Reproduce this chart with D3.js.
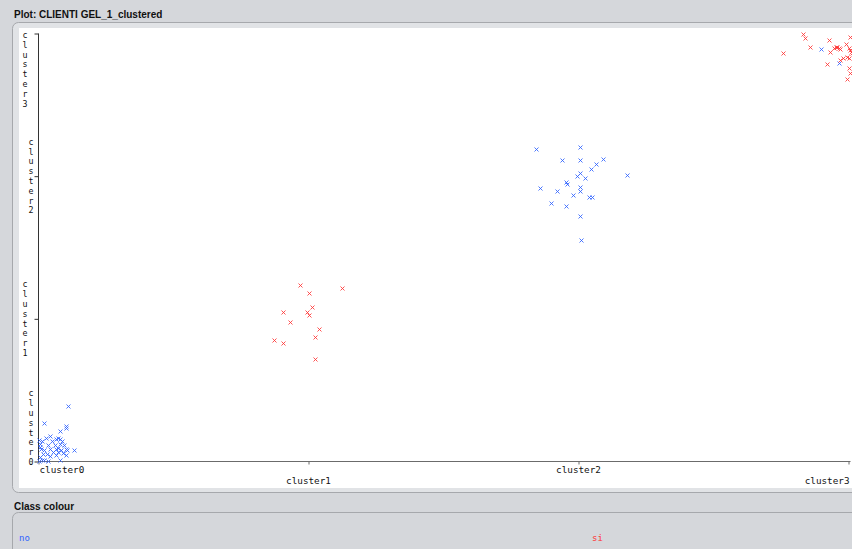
<!DOCTYPE html>
<html><head><meta charset="utf-8">
<script src="https://cdn.jsdelivr.net/npm/d3@7"></script>
<style>
html,body{margin:0;padding:0;background:#d5d7db;overflow:hidden}
svg{display:block}
</style></head><body>
<svg id="chart" width="852" height="549"></svg>
<script>
// Cluster categories on both axes (each point jittered around its cluster index)
const categories = ["cluster0", "cluster1", "cluster2", "cluster3"];
const classNames = ["no", "si"];
const classColors = ["#2e62ff", "#ff3434"];

// class "no" points: x = assigned cluster (jittered), y = cluster (jittered)
const noX = [
  0.109, 0.020, 0.103, 0.100, 0.078, 0.043, 0.000, 0.029, 0.074, 0.066, 0.081,
  0.012, 0.049, 0.086, 0.006, 0.007, 0.037, 0.062, 0.078, 0.096, 0.010, 0.022,
  0.044, 0.066, 0.074, 0.084, 0.103, 0.106, 0.131, 0.053, 0.071, 0.090, 0.016,
  0.032, 0.066, 0.103, 0.007, 0.041, 0.022, 0.037, 0.000, 0.078, 0.012,
  1.844, 2.005, 1.938, 2.005, 2.091, 2.066, 2.047, 2.005, 1.993, 2.023, 2.178,
  1.953, 1.957, 1.857, 1.920, 2.005, 2.005, 1.980, 2.040, 2.049, 1.897, 1.953,
  2.005, 2.010,
  2.897, 2.963
];
const noY = [
  0.388, 0.271, 0.250, 0.236, 0.212, 0.177, 0.154, 0.166, 0.166, 0.161, 0.156,
  0.142, 0.142, 0.142, 0.126, 0.103, 0.114, 0.114, 0.126, 0.114, 0.091, 0.079,
  0.091, 0.086, 0.096, 0.079, 0.091, 0.079, 0.084, 0.068, 0.068, 0.063, 0.056,
  0.056, 0.049, 0.044, 0.033, 0.037, 0.014, 0.002, 0.002, 0.014, 0.009,
  2.187, 2.206, 2.115, 2.115, 2.119, 2.087, 2.052, 2.024, 2.000, 1.989, 2.007,
  1.958, 1.946, 1.914, 1.897, 1.923, 1.897, 1.869, 1.853, 1.857, 1.813, 1.790,
  1.719, 1.556,
  2.888, 2.790
];

// class "si" points
const siX = [
  0.970, 1.003, 1.123, 1.012, 0.907, 0.996, 1.000, 0.931, 1.040, 0.874, 0.904,
  1.023, 1.023,
  2.830, 2.840, 3.007, 2.859, 2.929, 2.758, 2.933, 2.953, 2.958, 2.963, 2.946,
  2.970, 2.990, 3.002, 3.007, 3.012, 2.995, 2.978, 2.970, 2.921, 3.000, 3.007,
  2.993, 3.010, 3.002
];
const siY = [
  1.236, 1.178, 1.217, 1.086, 1.051, 1.049, 1.030, 0.979, 0.932, 0.853, 0.829,
  0.874, 0.715,
  2.993, 2.965, 2.977, 2.907, 2.951, 2.860, 2.872, 2.904, 2.904, 2.900, 2.895,
  2.890, 2.923, 2.900, 2.883, 2.860, 2.836, 2.830, 2.813, 2.783, 2.759, 2.720,
  2.678, 2.872, 2.830
];

const svg = d3.select("#chart");
const sansFont = "Liberation Sans, Arial, sans-serif";
const monoFont = "DejaVu Sans Mono, monospace";

// window title
svg.append("text")
  .attr("x", 14).attr("y", 18)
  .attr("font-family", sansFont)
  .attr("font-weight", "bold").attr("font-size", 10)
  .attr("fill", "#111")
  .text("Plot: CLIENTI GEL_1_clustered");

// plot panel
svg.append("rect")
  .attr("x", 12.5).attr("y", 22.5).attr("width", 860).attr("height", 470)
  .attr("rx", 6).attr("fill", "#e1e3e6").attr("stroke", "#a6a8ac");
svg.append("rect")
  .attr("x", 19).attr("y", 28).attr("width", 840).attr("height", 460)
  .attr("fill", "#ffffff");

svg.append("clipPath").attr("id", "plotClip")
  .append("rect").attr("x", 19).attr("y", 28).attr("width", 840).attr("height", 460);

const x = d3.scaleLinear().domain([0, 3]).range([38.5, 848.5]);
const y = d3.scaleLinear().domain([0, 3]).range([461.5, 33.5]);

// axes (ticks only; labels are drawn below)
const xAxis = d3.axisBottom(x).tickValues([0, 1, 2, 3]).tickSize(3).tickSizeOuter(0).tickFormat("");
const yAxis = d3.axisLeft(y).tickValues([0, 1, 2, 3]).tickSize(4).tickSizeOuter(0).tickFormat("");

const gx = svg.append("g").attr("transform", `translate(0,${y(0)})`).call(xAxis);
gx.select(".domain").attr("stroke", "#6b6b6b").attr("d", `M${x(0)},0H${x(3) + 2}`);
gx.selectAll(".tick line").attr("stroke", "#6b6b6b");

const gy = svg.append("g").attr("transform", `translate(${x(0)},0)`).call(yAxis);
gy.select(".domain").attr("stroke", "#333").attr("d", `M0,${y(3)}V${y(0)}`);
gy.selectAll(".tick line").attr("stroke", "#333");

// x labels: first left-aligned, last right-aligned, alternating rows
const xLabelRow = [469.5, 481, 469.5, 481];
const nCat = categories.length;
svg.append("g").selectAll("text").data(categories).join("text")
  .attr("x", (d, i) => i === 0 ? x(i) + 1 : i === nCat - 1 ? x(i) + 1 : x(i))
  .attr("y", (d, i) => xLabelRow[i])
  .attr("dy", "0.35em")
  .attr("text-anchor", (d, i) => i === 0 ? "start" : i === nCat - 1 ? "end" : "middle")
  .attr("font-family", monoFont).attr("font-size", 9.3)
  .attr("fill", "#111")
  .text(d => d);

// y labels: characters stacked vertically, one per row
const pitch = 9.8;
const yLabelCol = [31, 25, 31, 25];
categories.forEach((c, i) => {
  const n = c.length;
  let start;
  if (i === 0) start = y(0) + 0.5 - (n - 1) * pitch;   // ends at the bottom tick
  else if (i === nCat - 1) start = y(i) + 1.5;        // starts at the top tick
  else start = y(i) - (n - 1) * pitch / 2;            // centred on its tick
  svg.append("g").selectAll("text").data(c.split("")).join("text")
    .attr("x", yLabelCol[i])
    .attr("y", (d, k) => start + k * pitch)
    .attr("dy", "0.35em")
    .attr("text-anchor", "middle")
    .attr("font-family", monoFont).attr("font-size", 8.3)
    .attr("fill", "#111")
    .text(d => d);
});

// points drawn as small crosses
const points = [];
noX.forEach((v, i) => points.push({ x: v, y: noY[i], c: 0 }));
siX.forEach((v, i) => points.push({ x: v, y: siY[i], c: 1 }));

svg.append("g").attr("clip-path", "url(#plotClip)")
  .selectAll("path").data(points).join("path")
  .attr("transform", d => `translate(${Math.round(x(d.x)) + 0.5},${Math.round(y(d.y)) + 0.5})`)
  .attr("d", "M-2,-2L2,2M-2,2L2,-2")
  .attr("fill", "none")
  .attr("stroke", d => classColors[d.c])
  .attr("stroke-width", 1)
  .attr("stroke-opacity", 0.85);

// legend
svg.append("text")
  .attr("x", 14).attr("y", 510)
  .attr("font-family", sansFont)
  .attr("font-weight", "bold").attr("font-size", 10)
  .attr("fill", "#111")
  .text("Class colour");
svg.append("rect")
  .attr("x", 12.5).attr("y", 512.5).attr("width", 860).attr("height", 60)
  .attr("rx", 6).attr("fill", "#d5d7db").attr("stroke", "#a6a8ac");

const legendX = [19, 592];
svg.append("g").selectAll("text").data(classNames).join("text")
  .attr("x", (d, i) => legendX[i]).attr("y", 538)
  .attr("dy", "0.35em")
  .attr("font-family", monoFont).attr("font-size", 9)
  .attr("fill", (d, i) => classColors[i])
  .text(d => d);
</script>
</body></html>
